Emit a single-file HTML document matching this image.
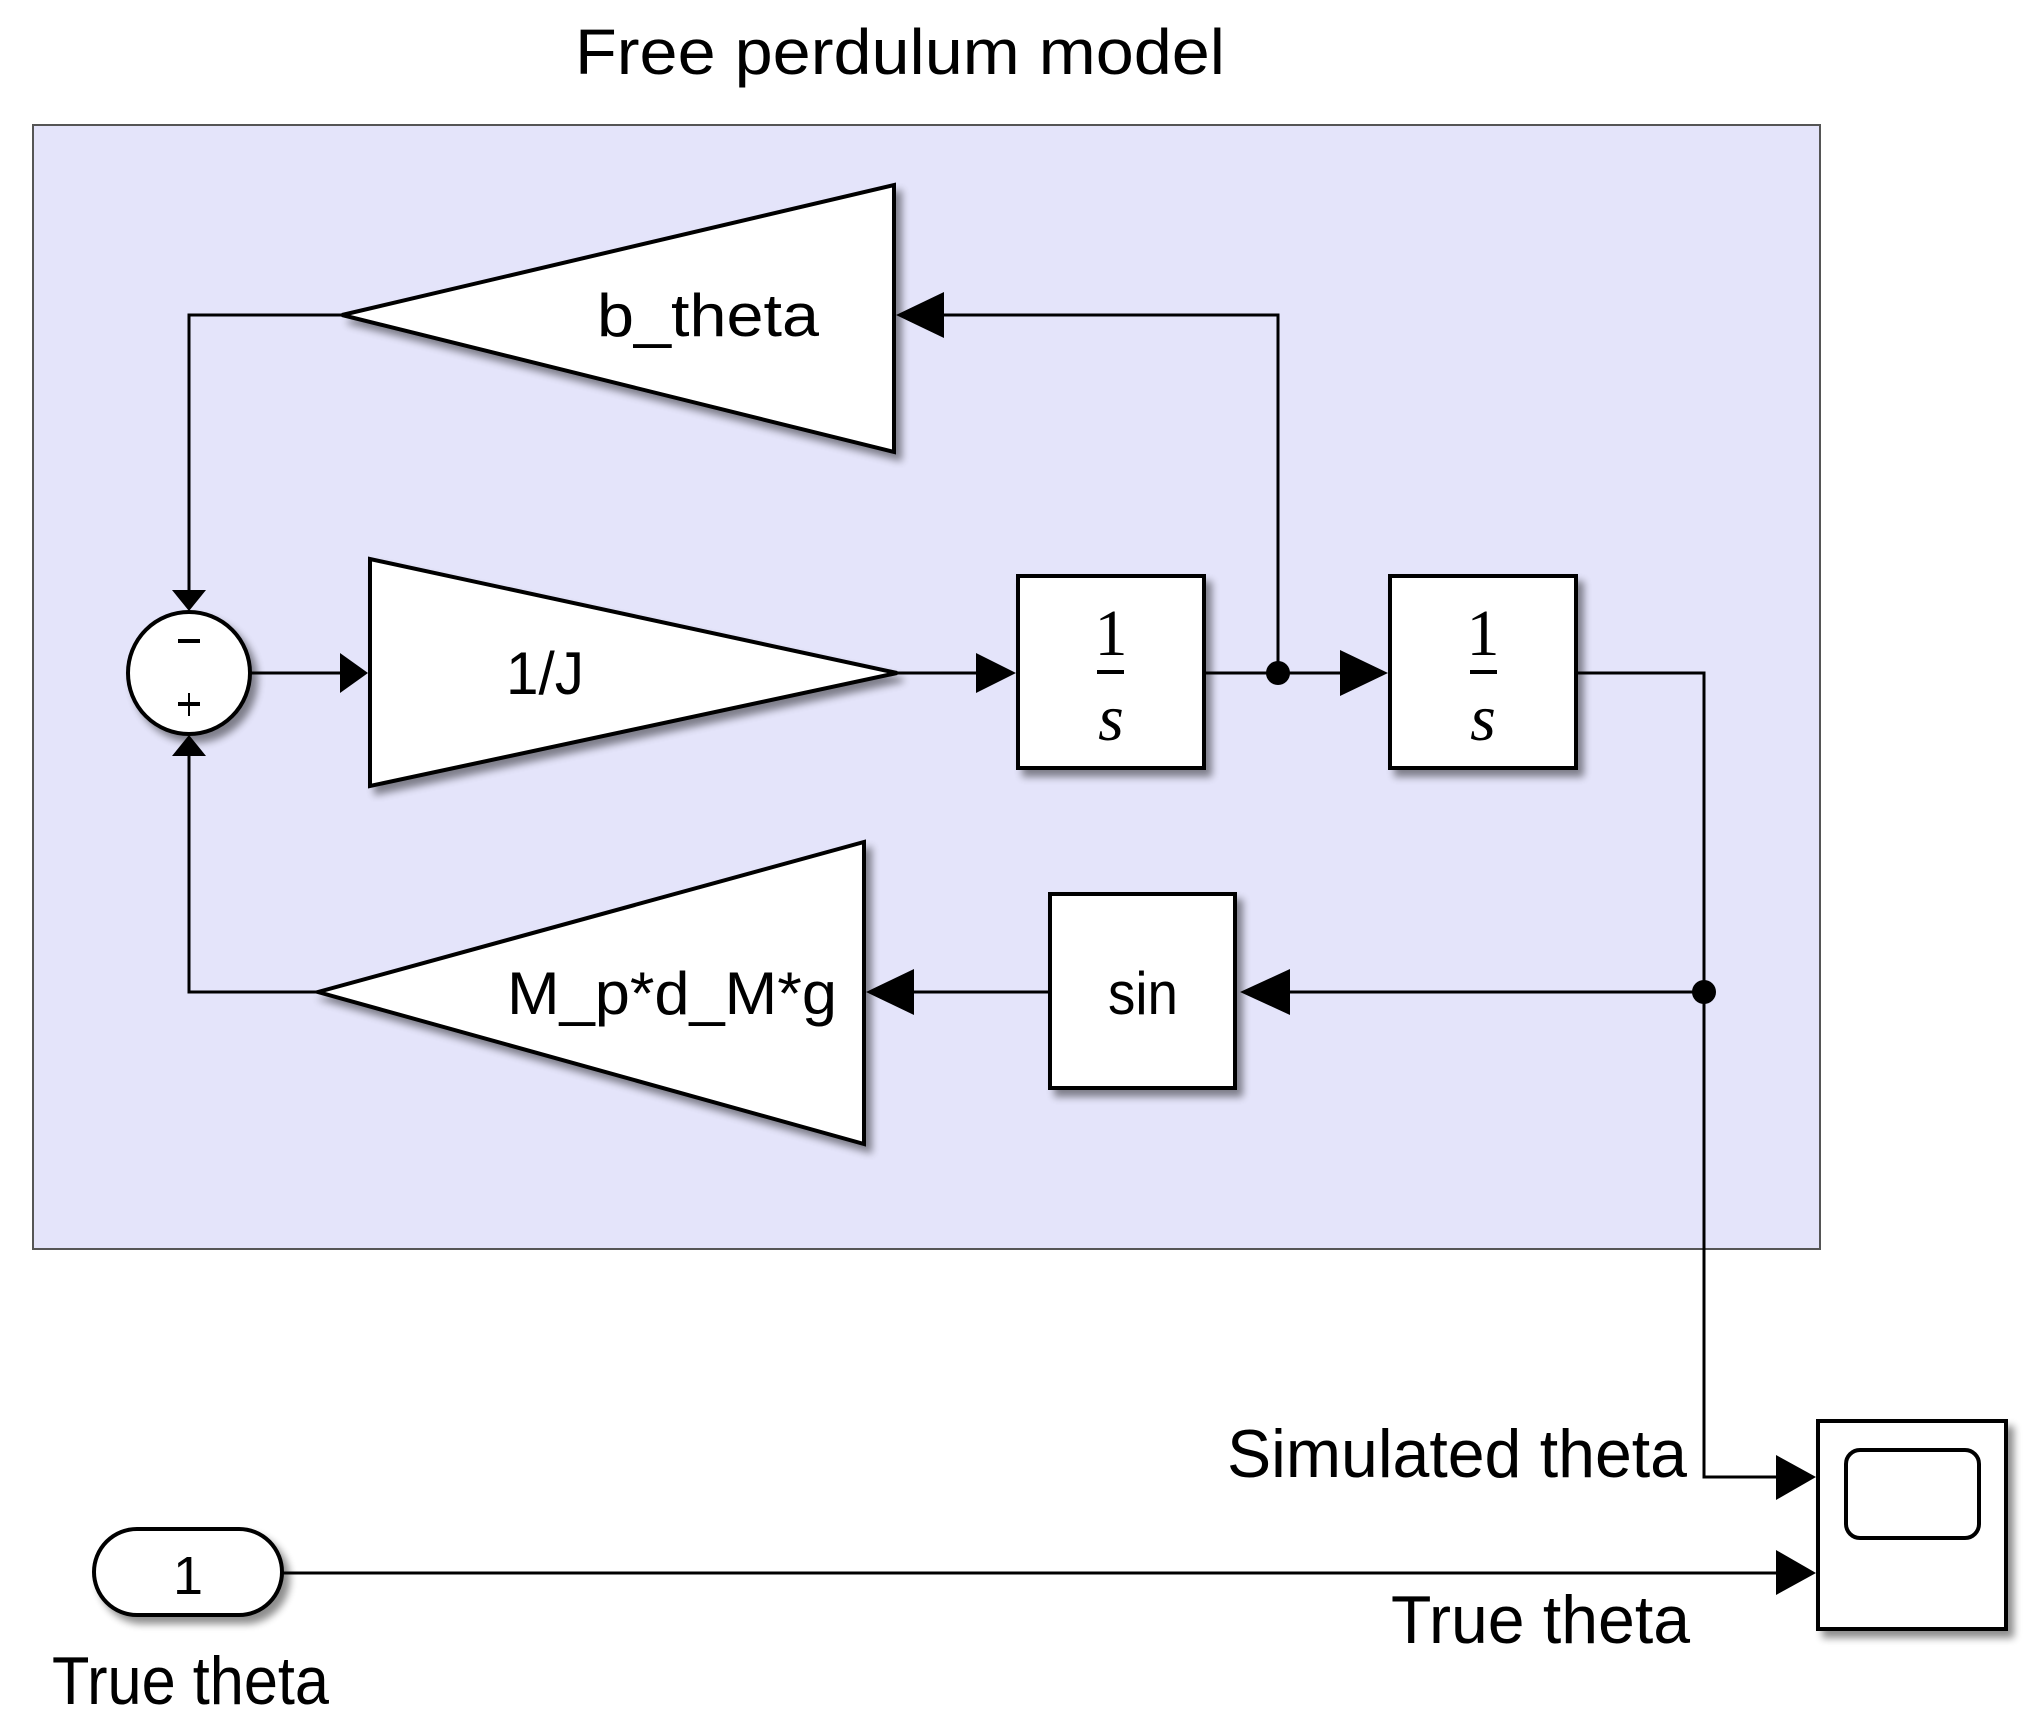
<!DOCTYPE html>
<html><head><meta charset="utf-8"><style>html,body{margin:0;padding:0;background:#fff;}svg{display:block}</style></head>
<body>
<svg width="2039" height="1729" viewBox="0 0 2039 1729" xmlns="http://www.w3.org/2000/svg" font-family="Liberation Sans, sans-serif">
<defs>
<filter id="sh" x="-20%" y="-20%" width="150%" height="150%"><feGaussianBlur in="SourceAlpha" stdDeviation="4"/><feOffset dx="6" dy="7"/><feComponentTransfer><feFuncA type="linear" slope="0.45"/></feComponentTransfer><feMerge><feMergeNode/><feMergeNode in="SourceGraphic"/></feMerge></filter>
</defs>
<text x="900" y="74" font-size="64" text-anchor="middle" textLength="650" lengthAdjust="spacingAndGlyphs">Free perdulum model</text>
<rect x="33" y="125" width="1787" height="1124" fill="#e4e4fa" stroke="#555" stroke-width="2"/>
<g stroke="#000" stroke-width="3" fill="none">
<polyline points="342,315 189,315 189,590"/>
<polyline points="318,992 189,992 189,756"/>
<line x1="251" y1="673" x2="340" y2="673"/>
<line x1="897" y1="673" x2="990" y2="673"/>
<line x1="1204" y1="673" x2="1360" y2="673"/>
<polyline points="1278,673 1278,315 940,315"/>
<polyline points="1576,673 1704,673 1704,1477 1780,1477"/>
<line x1="1704" y1="992" x2="1280" y2="992"/>
<line x1="1050" y1="992" x2="912" y2="992"/>
<line x1="282" y1="1573" x2="1780" y2="1573"/>
</g>
<g fill="#000">
<polygon points="172,590 206,590 189,611"/>
<polygon points="172,756 206,756 189,735"/>
<polygon points="340,653 340,693 368,673"/>
<polygon points="976,653 976,693 1016,673"/>
<polygon points="1340,650 1340,696 1388,673"/>
<polygon points="944,292 944,338 896,315"/>
<polygon points="1290,969 1290,1015 1240,992"/>
<polygon points="914,969 914,1015 866,992"/>
<polygon points="1776,1455 1776,1500 1816,1477"/>
<polygon points="1776,1550 1776,1595 1816,1573"/>
<circle cx="1278" cy="673" r="12"/>
<circle cx="1704" cy="992" r="12"/>
</g>
<g filter="url(#sh)" fill="#fff" stroke="#000" stroke-width="4">
<polygon points="894,185 894,452 342,315"/>
<polygon points="370,559 370,786 897,673"/>
<polygon points="864,842 864,1144 318,992"/>
<circle cx="189" cy="673" r="61"/>
<rect x="1018" y="576" width="186" height="192"/>
<rect x="1390" y="576" width="186" height="192"/>
<rect x="1050" y="894" width="185" height="194"/>
<rect x="1818" y="1421" width="188" height="208"/>
<rect x="94" y="1529" width="188" height="86" rx="43"/>
</g>
<rect x="1846" y="1450" width="133" height="88" rx="14" fill="#fff" stroke="#000" stroke-width="4"/>
<g stroke="#000" stroke-width="4">
<line x1="178" y1="641" x2="200" y2="641"/>
<line x1="178" y1="704" x2="200" y2="704"/><line x1="189" y1="693" x2="189" y2="716" stroke-width="2"/>
<line x1="1097" y1="672" x2="1124" y2="672"/>
<line x1="1470" y1="672" x2="1497" y2="672"/>
</g>
<g font-size="60">
<text x="708" y="336" text-anchor="middle" textLength="222" lengthAdjust="spacingAndGlyphs">b_theta</text>
<text x="545" y="694" text-anchor="middle" textLength="78" lengthAdjust="spacingAndGlyphs">1/J</text>
<text x="672" y="1014" text-anchor="middle" textLength="330" lengthAdjust="spacingAndGlyphs">M_p*d_M*g</text>
<text x="1143" y="1014" text-anchor="middle" textLength="70" lengthAdjust="spacingAndGlyphs">sin</text>
<text x="1111" y="655" text-anchor="middle" font-family="Liberation Serif, serif" font-size="66">1</text>
<text x="1111" y="740" text-anchor="middle" font-family="Liberation Serif, serif" font-style="italic" font-size="66">s</text>
<text x="1483" y="655" text-anchor="middle" font-family="Liberation Serif, serif" font-size="66" font-weight="300">1</text>
<text x="1483" y="740" text-anchor="middle" font-family="Liberation Serif, serif" font-style="italic" font-size="66">s</text>
<text x="188" y="1594" text-anchor="middle" font-size="54">1</text>
</g>
<g font-size="68">
<text x="1227" y="1477" textLength="460" lengthAdjust="spacingAndGlyphs">Simulated theta</text>
<text x="1391" y="1643" textLength="299" lengthAdjust="spacingAndGlyphs">True theta</text>
<text x="52" y="1704" textLength="277" lengthAdjust="spacingAndGlyphs">True theta</text>
</g>
</svg>
</body></html>
